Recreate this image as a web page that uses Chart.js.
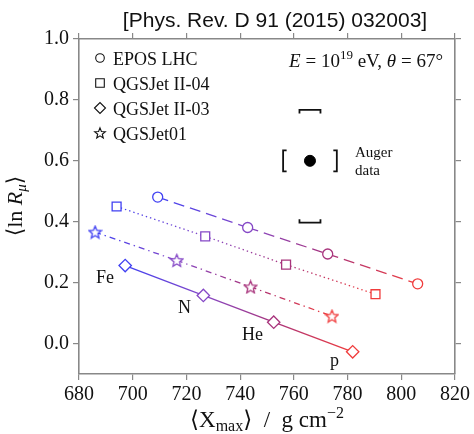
<!DOCTYPE html>
<html>
<head>
<meta charset="utf-8">
<title>lnRmu vs Xmax</title>
<script src="https://cdn.jsdelivr.net/npm/chart.js@4"></script>
<style>
  body { margin: 0; background: #fff; }
  #wrap { width: 474px; height: 434px; }
</style>
</head>
<body>
<div id="wrap"><canvas id="chart"></canvas></div>
<script>
// primaries in order Fe, N, He, p
const primaries = ['Fe', 'N', 'He', 'p'];
const primaryColors = ['#4040f2', '#8548c6', '#a8347c', '#f03c3c'];

// <Xmax> (g/cm2) and <ln R_mu> per hadronic model
const eposX = [709.3, 742.8, 772.6, 806.1];
const eposY = [0.481, 0.381, 0.294, 0.196];
const qgsII04X = [694.0, 727.0, 757.1, 790.4];
const qgsII04Y = [0.450, 0.352, 0.259, 0.162];
const qgsII03X = [697.2, 726.3, 752.5, 781.9];
const qgsII03Y = [0.256, 0.158, 0.070, -0.027];
const qgs01X = [686.0, 716.4, 743.9, 774.2];
const qgs01Y = [0.366, 0.273, 0.186, 0.090];

// Auger measurement with systematic band
const augerX = 766.0;
const augerY = 0.60;
const augerSysX = 10.0;
const augerSysYHi = 0.767;
const augerSysYLo = 0.397;

const modelNames = ['EPOS LHC', 'QGSJet II-04', 'QGSJet II-03', 'QGSJet01'];
const xTickStep = 20;
const yTickStep = 0.2;

const serif = '"Liberation Serif", "DejaVu Serif", serif';

function starCanvas(color, size, lw) {
  const c = document.createElement('canvas');
  c.width = size; c.height = size;
  const g = c.getContext('2d');
  const cx = size / 2, cy = size / 2 + 0.6;
  const ro = size / 2 - 1, ri = ro * 0.45;
  g.beginPath();
  for (let k = 0; k < 10; k++) {
    const r = k % 2 ? ri : ro;
    const a = -Math.PI / 2 + k * Math.PI / 5;
    const px = cx + r * Math.cos(a), py = cy + r * Math.sin(a);
    k ? g.lineTo(px, py) : g.moveTo(px, py);
  }
  g.closePath();
  g.fillStyle = '#fff';
  g.fill();
  g.strokeStyle = color;
  g.lineWidth = lw;
  g.stroke();
  return c;
}

const stars = primaryColors.map(c => starCanvas(c, 15, 1.3));

const toPoints = (xs, ys) => xs.map((x, i) => ({ x, y: ys[i] }));

// each segment fades from one primary colour to the next
const segmentGradient = (ctx) => {
  const g = ctx.chart.ctx.createLinearGradient(ctx.p0.x, 0, ctx.p1.x, 0);
  g.addColorStop(0, primaryColors[ctx.p0DataIndex]);
  g.addColorStop(1, primaryColors[ctx.p1DataIndex]);
  return g;
};

const modelDataset = (label, xs, ys, style, radius, dash) => ({
  label,
  data: toPoints(xs, ys),
  showLine: true,
  borderWidth: 1.3,
  borderColor: primaryColors[0],
  borderDash: dash,
  segment: { borderColor: segmentGradient },
  pointStyle: style === 'star' ? stars : style,
  pointRadius: radius,
  pointHoverRadius: radius,
  pointBorderWidth: 1.3,
  pointBorderColor: primaryColors,
  pointBackgroundColor: '#fff'
});

function drawRuns(ctx, x, y, runs, align) {
  let total = 0;
  runs.forEach(r => { ctx.font = r.font; total += ctx.measureText(r.t).width + (r.gap || 0); });
  let cx = align === 'center' ? x - total / 2 : align === 'right' ? x - total : x;
  ctx.textBaseline = 'alphabetic';
  ctx.textAlign = 'left';
  runs.forEach(r => {
    ctx.font = r.font;
    ctx.fillText(r.t, cx, y + (r.dy || 0));
    cx += ctx.measureText(r.t).width + (r.gap || 0);
  });
}

function legendMarker(ctx, kind, x, y) {
  ctx.save();
  ctx.strokeStyle = '#111';
  ctx.lineWidth = 1.1;
  ctx.beginPath();
  if (kind === 'circle') {
    ctx.arc(x, y, 4.3, 0, Math.PI * 2);
  } else if (kind === 'rect') {
    ctx.rect(x - 4.3, y - 4.3, 8.6, 8.6);
  } else if (kind === 'rectRot') {
    ctx.moveTo(x - 5.5, y); ctx.lineTo(x, y - 5.5); ctx.lineTo(x + 5.5, y); ctx.lineTo(x, y + 5.5); ctx.closePath();
  } else {
    for (let k = 0; k < 10; k++) {
      const r = k % 2 ? 2.4 : 5.6;
      const a = -Math.PI / 2 + k * Math.PI / 5;
      const px = x + r * Math.cos(a), py = y + 0.5 + r * Math.sin(a);
      k ? ctx.lineTo(px, py) : ctx.moveTo(px, py);
    }
    ctx.closePath();
  }
  ctx.stroke();
  ctx.restore();
}

const annotations = {
  id: 'annotations',
  afterDatasetsDraw(chart) {
    const { ctx, scales } = chart;
    const sx = scales.x, sy = scales.y;
    ctx.save();
    ctx.fillStyle = '#111';

    // reference
    ctx.font = '21px "Liberation Sans", Arial, sans-serif';
    ctx.textAlign = 'center';
    ctx.textBaseline = 'alphabetic';
    ctx.fillText('[Phys. Rev. D 91 (2015) 032003]', 275, 27);

    // legend
    const kinds = ['circle', 'rect', 'rectRot', 'star'];
    modelNames.forEach((name, i) => {
      const yy = 58 + i * 25;
      legendMarker(ctx, kinds[i], 100, yy);
      ctx.font = '18px ' + serif;
      ctx.textAlign = 'left';
      ctx.fillText(name, 113, yy + 7);
    });

    // energy and zenith angle
    drawRuns(ctx, 443, 67, [
      { t: 'E', font: 'italic 19px ' + serif },
      { t: ' = 10', font: '19px ' + serif },
      { t: '19', font: '13px ' + serif, dy: -8 },
      { t: ' eV, ', font: '19px ' + serif },
      { t: 'θ', font: 'italic 19px ' + serif },
      { t: ' = 67°', font: '19px ' + serif }
    ], 'right');

    // Auger systematics brackets
    ctx.strokeStyle = '#111';
    ctx.lineWidth = 1.8;
    const cx = sx.getPixelForValue(augerX), cy = sy.getPixelForValue(augerY);
    const yHi = sy.getPixelForValue(augerSysYHi), yLo = sy.getPixelForValue(augerSysYLo);
    const xL = sx.getPixelForValue(augerX - augerSysX), xR = sx.getPixelForValue(augerX + augerSysX);
    const hw = 10.5, tick = 3.5, hh = 10.5;
    ctx.beginPath();
    ctx.moveTo(cx - hw, yHi + tick); ctx.lineTo(cx - hw, yHi); ctx.lineTo(cx + hw, yHi); ctx.lineTo(cx + hw, yHi + tick);
    ctx.moveTo(cx - hw, yLo - tick); ctx.lineTo(cx - hw, yLo); ctx.lineTo(cx + hw, yLo); ctx.lineTo(cx + hw, yLo - tick);
    ctx.moveTo(xL + tick, cy - hh); ctx.lineTo(xL, cy - hh); ctx.lineTo(xL, cy + hh); ctx.lineTo(xL + tick, cy + hh);
    ctx.moveTo(xR - tick, cy - hh); ctx.lineTo(xR, cy - hh); ctx.lineTo(xR, cy + hh); ctx.lineTo(xR - tick, cy + hh);
    ctx.stroke();
    ctx.font = '15px ' + serif;
    ctx.textAlign = 'left';
    ctx.fillText('Auger', 355, 157);
    ctx.fillText('data', 355, 175);

    // primary labels
    ctx.font = '18px ' + serif;
    const labelPos = [[96, 283], [178, 313], [242, 340], [330, 366]];
    primaries.forEach((p, i) => ctx.fillText(p, labelPos[i][0], labelPos[i][1]));

    // axis titles
    drawRuns(ctx, 267, 427, [
      { t: '⟨X', font: '23px ' + serif },
      { t: 'max', font: '16px ' + serif, dy: 4 },
      { t: '⟩  /  g cm', font: '23px ' + serif },
      { t: '−2', font: '16px ' + serif, dy: -9 }
    ], 'center');

    ctx.translate(22, 206);
    ctx.rotate(-Math.PI / 2);
    drawRuns(ctx, 0, 0, [
      { t: '⟨ln ', font: '22px ' + serif },
      { t: 'R', font: 'italic 22px ' + serif },
      { t: 'μ', font: 'italic 15px ' + serif, dy: 4 },
      { t: '⟩', font: '22px ' + serif }
    ], 'center');
    ctx.restore();
  }
};

const frameGrid = { drawOnChartArea: false, tickLength: 6, color: '#888', lineWidth: 1.2 };
const frameBorder = { color: '#888', width: 1.6 };
const tickFont = { family: serif, size: 20 };

new Chart(document.getElementById('chart'), {
  type: 'scatter',
  data: {
    datasets: [
      modelDataset(modelNames[0], eposX, eposY, 'circle', 5, [11, 6]),
      modelDataset(modelNames[1], qgsII04X, qgsII04Y, 'rect', 6.3, [1.4, 3]),
      modelDataset(modelNames[2], qgsII03X, qgsII03Y, 'rectRot', 6.2, []),
      modelDataset(modelNames[3], qgs01X, qgs01Y, 'star', 7, [6, 4, 1.4, 4]),
      {
        label: 'Auger data',
        data: [{ x: augerX, y: augerY }],
        pointStyle: 'circle',
        pointRadius: 5.5,
        pointBackgroundColor: '#000',
        pointBorderColor: '#000'
      }
    ]
  },
  options: {
    responsive: true,
    maintainAspectRatio: false,
    animation: false,
    layout: { padding: 0 },
    plugins: { legend: { display: false }, tooltip: { enabled: false } },
    scales: {
      x: {
        type: 'linear', position: 'bottom', min: 680, max: 820,
        ticks: { stepSize: xTickStep, font: tickFont, color: '#111', padding: 3, maxRotation: 0 },
        grid: frameGrid, border: frameBorder,
        afterFit: s => { s.height = 60; }
      },
      x2: {
        type: 'linear', position: 'top', min: 680, max: 820,
        ticks: { stepSize: xTickStep, display: false },
        grid: frameGrid, border: frameBorder,
        afterFit: s => { s.height = 39; }
      },
      y: {
        type: 'linear', position: 'left', min: -0.1, max: 1.0,
        ticks: { stepSize: yTickStep, includeBounds: false, font: tickFont, color: '#111', padding: 4,
                 callback: v => v.toFixed(1) },
        grid: frameGrid, border: frameBorder,
        afterFit: s => { s.width = 79; }
      },
      y2: {
        type: 'linear', position: 'right', min: -0.1, max: 1.0,
        ticks: { stepSize: yTickStep, includeBounds: false, display: false },
        grid: frameGrid, border: frameBorder,
        afterFit: s => { s.width = 19; }
      }
    }
  },
  plugins: [annotations]
});
</script>
</body>
</html>
